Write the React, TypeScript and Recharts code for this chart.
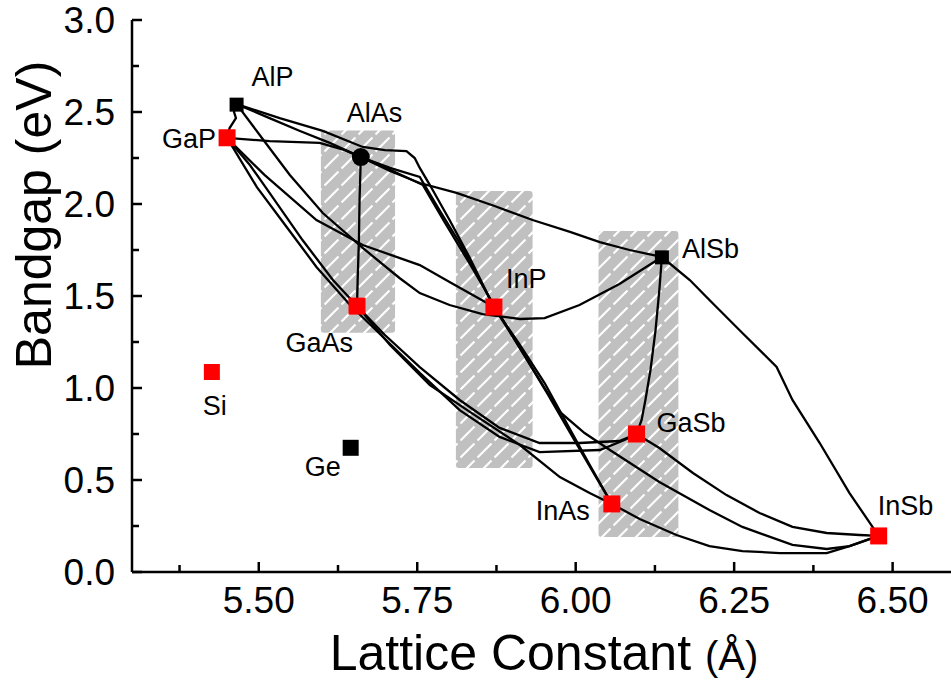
import React from 'react';
import { ScatterChart, Scatter, XAxis, YAxis, ReferenceArea } from 'recharts';

const FONT = '"Liberation Sans", Arial, Helvetica, sans-serif';

// axis ticks
const X_MAJOR = [5.5, 5.75, 6.0, 6.25, 6.5];
const X_MINOR = [5.375, 5.625, 5.875, 6.125, 6.375];
const Y_MAJOR = [0, 0.5, 1, 1.5, 2, 2.5, 3];
const Y_MINOR = [0.25, 0.75, 1.25, 1.75, 2.25, 2.75];
const X_TICKS = [...X_MAJOR, ...X_MINOR].sort((a, b) => a - b);
const Y_TICKS = [...Y_MAJOR, ...Y_MINOR].sort((a, b) => a - b);

// binary compounds / elements
const NAMES = ['AlP', 'GaP', 'AlAs', 'GaAs', 'InP', 'AlSb', 'GaSb', 'InAs', 'InSb', 'Si', 'Ge'];
const LATTICE = [5.465, 5.45, 5.661, 5.655, 5.871, 6.136, 6.096, 6.057, 6.478, 5.426, 5.645];
const BANDGAP = [2.54, 2.36, 2.255, 1.445, 1.44, 1.71, 0.75, 0.37, 0.196, 1.087, 0.675];

// shaded regions (lattice range, gap range)
const BAND_X = [[5.598, 5.715], [5.811, 5.932], [6.036, 6.162]];
const BAND_Y = [[1.3, 2.4], [0.565, 2.07], [0.19, 1.853]];

// ternary curves, [lattice, gap]
const AlP_GaP = [[5.465, 2.543], [5.461, 2.5], [5.464, 2.467], [5.454, 2.413], [5.45, 2.359]];
const AlP_AlAs = [[5.465, 2.543], [5.517, 2.467], [5.565, 2.397], [5.612, 2.332], [5.661, 2.255]];
const AlP_InP = [[5.465, 2.543], [5.533, 2.467], [5.601, 2.397], [5.664, 2.31], [5.699, 2.293], [5.733, 2.288], [5.746, 2.25], [5.754, 2.196], [5.77, 2.103], [5.801, 1.913], [5.833, 1.707], [5.871, 1.44]];
const GaP_InP = [[5.45, 2.359], [5.517, 2.342], [5.596, 2.332], [5.636, 2.293], [5.661, 2.255], [5.707, 2.196], [5.754, 2.147], [5.785, 1.967], [5.817, 1.788], [5.849, 1.587], [5.871, 1.44]];
const GaP_InP_b = [[5.45, 2.359], [5.509, 2.158], [5.591, 1.913], [5.664, 1.777], [5.754, 1.668], [5.801, 1.576], [5.86, 1.462], [5.871, 1.44]];
const AlAs_InAs = [[5.661, 2.255], [5.715, 2.174], [5.759, 2.103], [5.793, 1.902], [5.833, 1.674], [5.871, 1.451], [5.912, 1.217], [5.954, 0.978], [5.998, 0.717], [6.03, 0.527], [6.057, 0.37]];
const AlAs_AlSb = [[5.661, 2.255], [5.707, 2.179], [5.754, 2.114], [5.812, 2.06], [5.872, 1.989], [5.932, 1.913], [5.991, 1.848], [6.038, 1.793], [6.085, 1.75], [6.136, 1.712]];
const AlP_AlSb = [[5.465, 2.543], [5.505, 2.359], [5.549, 2.158], [5.601, 1.951], [5.664, 1.761], [5.722, 1.598], [5.754, 1.516], [5.801, 1.451], [5.853, 1.402], [5.912, 1.375], [5.951, 1.38], [6.006, 1.451], [6.069, 1.565], [6.136, 1.712]];
const AlAs_GaAs = [[5.661, 2.255], [5.659, 2.022], [5.658, 1.804], [5.656, 1.587], [5.655, 1.446]];
const GaP_GaAs = [[5.45, 2.359], [5.486, 2.212], [5.517, 2.06], [5.569, 1.804], [5.617, 1.587], [5.655, 1.446]];
const GaP_GaSb = [[5.45, 2.359], [5.497, 2.092], [5.544, 1.875], [5.591, 1.658], [5.644, 1.451], [5.696, 1.277], [5.754, 1.082], [5.817, 0.88], [5.88, 0.734], [5.943, 0.652], [6.038, 0.663], [6.077, 0.717], [6.096, 0.75]];
const GaAs_GaSb = [[5.655, 1.446], [5.699, 1.288], [5.754, 1.114], [5.817, 0.935], [5.88, 0.783], [5.943, 0.701], [6.006, 0.701], [6.069, 0.712], [6.096, 0.75]];
const GaAs_InAs = [[5.655, 1.446], [5.707, 1.234], [5.77, 1.016], [5.833, 0.87], [5.912, 0.69], [5.975, 0.516], [6.022, 0.429], [6.057, 0.37]];
const InP_InAs = [[5.871, 1.44], [5.912, 1.234], [5.951, 1.027], [5.983, 0.826], [6.022, 0.582], [6.057, 0.37]];
const InP_InSb = [[5.871, 1.44], [5.912, 1.217], [5.951, 1.0], [5.975, 0.87], [6.014, 0.755], [6.054, 0.663], [6.132, 0.489], [6.211, 0.337], [6.263, 0.245], [6.342, 0.147], [6.396, 0.125], [6.432, 0.141], [6.478, 0.196]];
const AlSb_GaSb = [[6.136, 1.712], [6.132, 1.533], [6.126, 1.315], [6.118, 1.098], [6.11, 0.935], [6.104, 0.826], [6.096, 0.75]];
const AlSb_InSb = [[6.136, 1.712], [6.18, 1.587], [6.211, 1.478], [6.263, 1.299], [6.317, 1.114], [6.342, 0.935], [6.385, 0.701], [6.432, 0.429], [6.478, 0.196]];
const GaSb_InSb = [[6.096, 0.75], [6.132, 0.674], [6.185, 0.538], [6.238, 0.418], [6.29, 0.321], [6.342, 0.245], [6.396, 0.212], [6.448, 0.201], [6.478, 0.196]];
const InAs_InSb = [[6.057, 0.37], [6.101, 0.288], [6.159, 0.201], [6.211, 0.141], [6.263, 0.114], [6.322, 0.103], [6.396, 0.103], [6.432, 0.141], [6.478, 0.196]];

const CURVES = [
  AlP_GaP, AlP_AlAs, AlP_InP, GaP_InP, GaP_InP_b, AlAs_InAs, AlAs_AlSb, AlP_AlSb, AlAs_GaAs,
  GaP_GaAs, GaP_GaSb, GaAs_GaSb, GaAs_InAs, InP_InAs, InP_InSb, AlSb_GaSb, AlSb_InSb, GaSb_InSb, InAs_InSb,
];

const RED = '#ff0000';
const BLACK = '#000000';

const MARKER: Record<string, { fill: string; size: number; round?: boolean }> = {
  AlP: { fill: BLACK, size: 14 },
  GaP: { fill: RED, size: 17 },
  AlAs: { fill: BLACK, size: 18, round: true },
  GaAs: { fill: RED, size: 17 },
  InP: { fill: RED, size: 17 },
  AlSb: { fill: BLACK, size: 14 },
  GaSb: { fill: RED, size: 17 },
  InAs: { fill: RED, size: 17 },
  InSb: { fill: RED, size: 17 },
  Si: { fill: RED, size: 16 },
  Ge: { fill: BLACK, size: 16 },
};

// label offset from marker centre: dx, dy, anchor
const LABEL: Record<string, [number, number, string]> = {
  AlP: [15, -19, 'start'],
  GaP: [-11, 10, 'end'],
  AlAs: [-14, -35, 'start'],
  GaAs: [-4, 46, 'end'],
  InP: [12, -19, 'start'],
  AlSb: [20, 1, 'start'],
  GaSb: [20, -2, 'start'],
  InAs: [-22, 16, 'end'],
  InSb: [-1, -21, 'start'],
  Si: [-9, 43, 'start'],
  Ge: [-10, 28, 'end'],
};

const compounds = NAMES.map((name, i) => ({ name, x: LATTICE[i], y: BANDGAP[i] }));
const curveData = CURVES.map((c) => c.map(([x, y]) => ({ x, y })));

const AXIS_LINE = { stroke: '#000', strokeWidth: 2.5 };

const BottomTick = (props: any) => {
  const { x, y, payload } = props;
  const major = X_MAJOR.includes(payload.value);
  return (
    <g>
      <line x1={x} x2={x} y1={y} y2={y - (major ? 10 : 7)} stroke="#000" strokeWidth={2.5} />
      {major && (
        <text x={x} y={y + 41} textAnchor="middle" fontSize={37} fontFamily={FONT} fill="#000">
          {payload.value.toFixed(2)}
        </text>
      )}
    </g>
  );
};

const TopTick = (props: any) => {
  const { x, y, payload } = props;
  const major = X_MAJOR.includes(payload.value);
  return <line x1={x} x2={x} y1={y} y2={y + (major ? 10 : 7)} stroke="#000" strokeWidth={2.5} />;
};

const LeftTick = (props: any) => {
  const { x, y, payload } = props;
  const major = Y_MAJOR.includes(payload.value);
  return (
    <g>
      <line x1={x} x2={x + (major ? 10 : 7)} y1={y} y2={y} stroke="#000" strokeWidth={2.5} />
      {major && (
        <text x={x - 17} y={y + 13} textAnchor="end" fontSize={37} fontFamily={FONT} fill="#000">
          {payload.value.toFixed(1)}
        </text>
      )}
    </g>
  );
};

const RightTick = (props: any) => {
  const { x, y, payload } = props;
  const major = Y_MAJOR.includes(payload.value);
  return <line x1={x} x2={x - (major ? 10 : 7)} y1={y} y2={y} stroke="#000" strokeWidth={2.5} />;
};

const XTitle = (props: any) => {
  const vb = props.viewBox;
  return (
    <text x={vb.x + vb.width / 2} y={vb.y + 98} textAnchor="middle" fontSize={50} fontFamily={FONT} fill="#000">
      {'Lattice Constant '}
      <tspan fontSize={40}>(Å)</tspan>
    </text>
  );
};

const YTitle = (props: any) => {
  const vb = props.viewBox;
  const cx = vb.x + 51;
  const cy = vb.y + 195;
  return (
    <text x={cx} y={cy} transform={`rotate(-90 ${cx} ${cy})`} textAnchor="middle" fontSize={50} fontFamily={FONT} fill="#000">
      Bandgap (eV)
    </text>
  );
};

const NoDot = () => <g />;

const CompoundDot = (props: any) => {
  const { cx, cy, payload } = props;
  const m = MARKER[payload.name];
  const l = LABEL[payload.name];
  return (
    <g>
      {m.round ? (
        <circle cx={cx} cy={cy} r={m.size / 2} fill={m.fill} />
      ) : (
        <rect x={cx - m.size / 2} y={cy - m.size / 2} width={m.size} height={m.size} fill={m.fill} />
      )}
      <text x={cx + l[0]} y={cy + l[1]} textAnchor={l[2] as any} fontSize={27} fontFamily={FONT} fill="#000">
        {payload.name}
      </text>
    </g>
  );
};

const HatchBox = (props: any) => {
  const { x, y, width, height } = props;
  return <rect x={x} y={y} width={width} height={height} rx={3} ry={3} fill="url(#hatch)" />;
};

export default function App() {
  return (
    <div style={{ position: 'absolute', left: 0, top: 0, width: 951, height: 681, overflow: 'hidden', background: '#fff' }}>
      <ScatterChart width={970} height={681} margin={{ top: 20, right: 14, bottom: 49, left: 0 }}>
        <defs>
          <pattern id="hatch" patternUnits="userSpaceOnUse" width={17} height={17}>
            <rect width={17} height={17} fill="#c0c0c0" />
            <line x1={1.5} y1={15.5} x2={15.5} y2={1.5} stroke="#ffffff" strokeWidth={2.2} />
          </pattern>
        </defs>
        <XAxis
          type="number"
          dataKey="x"
          domain={[5.3, 6.6]}
          ticks={X_TICKS}
          interval={0}
          tickSize={0}
          tickMargin={0}
          tickLine={false}
          tick={BottomTick}
          axisLine={AXIS_LINE}
          height={60}
          allowDataOverflow
          label={XTitle}
        />
        <XAxis
          xAxisId="top"
          orientation="top"
          type="number"
          domain={[5.3, 6.6]}
          ticks={X_TICKS}
          interval={0}
          tickSize={0}
          tickMargin={0}
          tickLine={false}
          tick={TopTick}
          axisLine={AXIS_LINE}
          height={0}
          allowDataOverflow
        />
        <YAxis
          type="number"
          dataKey="y"
          domain={[0, 3]}
          ticks={Y_TICKS}
          interval={0}
          tickSize={0}
          tickMargin={0}
          tickLine={false}
          tick={LeftTick}
          axisLine={AXIS_LINE}
          width={132}
          allowDataOverflow
          label={YTitle}
        />
        <YAxis
          yAxisId="right"
          orientation="right"
          type="number"
          domain={[0, 3]}
          ticks={Y_TICKS}
          interval={0}
          tickSize={0}
          tickMargin={0}
          tickLine={false}
          tick={RightTick}
          axisLine={AXIS_LINE}
          width={0}
          allowDataOverflow
        />
        {BAND_X.map((bx, i) => (
          <ReferenceArea
            key={`band-${i}`}
            x1={bx[0]}
            x2={bx[1]}
            y1={BAND_Y[i][0]}
            y2={BAND_Y[i][1]}
            shape={HatchBox}
            ifOverflow="visible"
          />
        ))}
        {curveData.map((d, i) => (
          <Scatter
            key={`curve-${i}`}
            data={d}
            line={{ stroke: '#000', strokeWidth: 2.3 }}
            shape={NoDot}
            isAnimationActive={false}
          />
        ))}
        <Scatter data={compounds} shape={CompoundDot} isAnimationActive={false} />
      </ScatterChart>
    </div>
  );
}
